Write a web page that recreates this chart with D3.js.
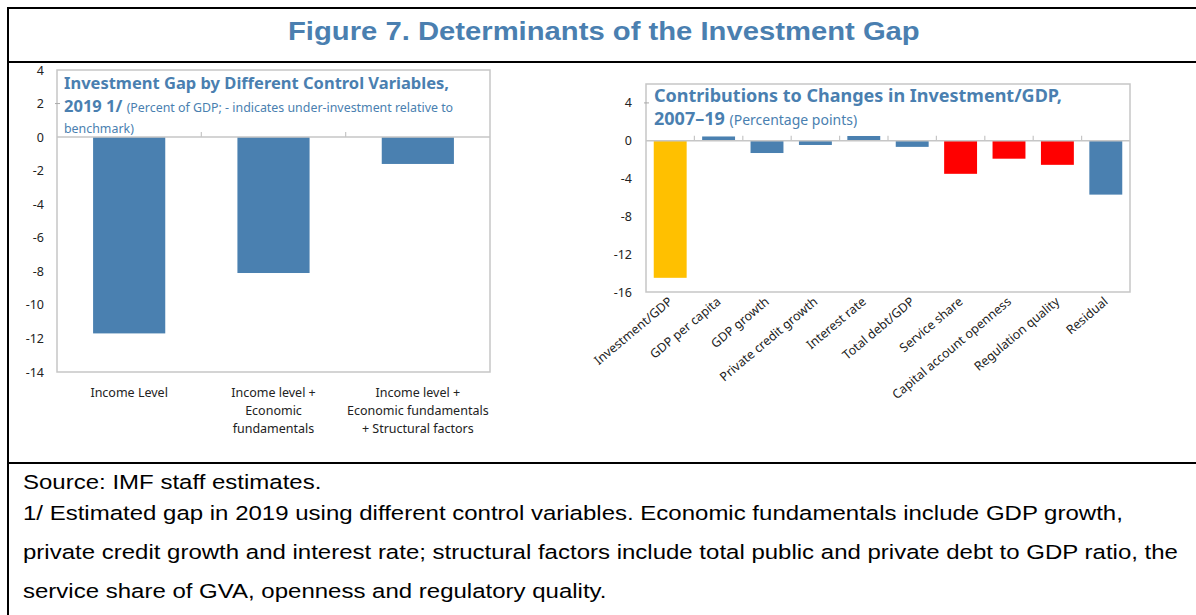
<!DOCTYPE html>
<html>
<head>
<meta charset="utf-8">
<script src="https://cdn.jsdelivr.net/npm/d3@7"></script>
<style>
  body { margin: 0; background: #fff; }
  svg { display: block; }
</style>
</head>
<body>
<svg width="1196" height="615"></svg>
<script>
// left panel data
const gapCategories = ["Income Level", "Income level + Economic fundamentals", "Income level + Economic fundamentals + Structural factors"];
const gapLabelLines = [["Income Level"], ["Income level +", "Economic", "fundamentals"], ["Income level +", "Economic fundamentals", "+ Structural factors"]];
const gapValues = [-11.7, -8.1, -1.6];
const gapTicks = [4, 2, 0, -2, -4, -6, -8, -10, -12, -14];

// right panel data
const contribCategories = ["Investment/GDP", "GDP per capita", "GDP growth", "Private credit growth", "Interest rate",
  "Total debt/GDP", "Service share", "Capital account openness", "Regulation quality", "Residual"];
const contribValues = [-14.5, 0.45, -1.3, -0.45, 0.5, -0.65, -3.5, -1.9, -2.55, -5.7];
const contribKind = ["total", "other", "other", "other", "other", "other", "structural", "structural", "structural", "other"];
const contribTicks = [4, 0, -4, -8, -12, -16];

const notes = [
  "Source: IMF staff estimates.",
  "1/ Estimated gap in 2019 using different control variables. Economic fundamentals include GDP growth,",
  "private credit growth and interest rate; structural factors include total public and private debt to GDP ratio, the",
  "service share of GVA, openness and regulatory quality."
];

const blue = "#4a80b0";
const colorOf = { total: "#ffc000", structural: "#ff0000", other: blue };
const titleBlue = "#4a7fb0";
const frameGray = "#c6c6c6";
const chartFont = "'Noto Sans', 'Open Sans', sans-serif";
const arial = "'Liberation Sans', Arial, sans-serif";
const plainNum = d => String(d); // hyphen minus, as in the source

const svg = d3.select("svg");

// outer frame
svg.append("rect").attr("width", 1196).attr("height", 615).attr("fill", "#fff");
[8, 62, 463].forEach(y => {
  svg.append("line").attr("x1", 8).attr("x2", 1196).attr("y1", y).attr("y2", y).attr("stroke", "#000").attr("stroke-width", 2);
});
svg.append("line").attr("x1", 8).attr("x2", 8).attr("y1", 7).attr("y2", 615).attr("stroke", "#000").attr("stroke-width", 2);

// figure title, stretched a little to match the source's wide rendering
const figTitle = svg.append("text")
  .attr("x", 0).attr("y", 0)
  .attr("font-family", arial)
  .attr("font-weight", "bold")
  .attr("font-size", 26.5)
  .attr("fill", titleBlue)
  .text("Figure 7. Determinants of the Investment Gap");
const ftw = figTitle.node().getComputedTextLength();
const ftScale = 632 / ftw;
figTitle.attr("transform", `translate(${604 - 632 / 2},40) scale(${ftScale},1)`);

// footnotes (same horizontal stretch as the source)
const noteY = [489, 520, 559, 598];
const noteG = svg.append("g").attr("transform", "translate(23,0) scale(1.232,1)");
noteG.selectAll("text").data(notes).enter().append("text")
  .attr("x", 0).attr("y", (d, i) => noteY[i])
  .attr("font-family", arial)
  .attr("font-size", 19.5)
  .attr("fill", "#000")
  .text(d => d);

// ---------- left panel ----------
const L = { left: 57, right: 490, top: 70, bottom: 372 };
const xL = d3.scaleBand().domain(gapCategories).range([L.left, L.right]).paddingInner(0.5).paddingOuter(0.25);
const yL = d3.scaleLinear().domain([-14, 4]).range([L.bottom, L.top]);
const gL = svg.append("g");

gL.append("rect")
  .attr("x", L.left).attr("y", L.top).attr("width", L.right - L.left).attr("height", L.bottom - L.top)
  .attr("fill", "#fff").attr("stroke", frameGray).attr("stroke-width", 1.5);

gL.selectAll("rect.bar").data(gapValues).enter().append("rect")
  .attr("class", "bar")
  .attr("x", (d, i) => xL(gapCategories[i]))
  .attr("width", xL.bandwidth())
  .attr("y", d => yL(Math.max(0, d)))
  .attr("height", d => Math.abs(yL(d) - yL(0)))
  .attr("fill", blue);

gL.append("line").attr("x1", L.left).attr("x2", L.right).attr("y1", yL(0)).attr("y2", yL(0))
  .attr("stroke", frameGray).attr("stroke-width", 1.5);
gL.selectAll("line.sep").data(gapCategories.slice(1)).enter().append("line")
  .attr("x1", d => xL(d) - xL.step() * xL.paddingInner() / 2)
  .attr("x2", d => xL(d) - xL.step() * xL.paddingInner() / 2)
  .attr("y1", yL(0)).attr("y2", yL(0) - 5)
  .attr("stroke", frameGray).attr("stroke-width", 1.2);

const axL = gL.append("g").attr("transform", `translate(${L.left},0)`)
  .call(d3.axisLeft(yL).tickValues(gapTicks).tickSize(0).tickPadding(13).tickFormat(plainNum));
axL.select(".domain").remove();
axL.selectAll("text").attr("font-family", chartFont).attr("font-size", 12.5).attr("fill", "#222");
gL.selectAll("line.ytick").data(gapTicks.filter(d => d > 0 && d < 4)).enter().append("line")
  .attr("x1", L.left - 2).attr("x2", L.left + 3).attr("y1", d => yL(d)).attr("y2", d => yL(d))
  .attr("stroke", "#aaa");

gL.selectAll("text.cat").data(gapLabelLines).enter().append("text")
  .attr("class", "cat")
  .attr("text-anchor", "middle")
  .attr("font-family", chartFont).attr("font-size", 12.5).attr("fill", "#222")
  .each(function (lines, i) {
    const cx = xL(gapCategories[i]) + xL.bandwidth() / 2;
    d3.select(this).selectAll("tspan").data(lines).enter().append("tspan")
      .attr("x", cx).attr("y", (d, j) => 397 + j * 18).text(d => d);
  });

const tL = gL.append("text").attr("font-family", chartFont).attr("fill", titleBlue);
tL.append("tspan").attr("x", 64).attr("y", 89).attr("font-size", 16.5).attr("font-weight", "bold")
  .text("Investment Gap by Different Control Variables,");
tL.append("tspan").attr("x", 64).attr("y", 112).attr("font-size", 16.5).attr("font-weight", "bold").text("2019 1/ ");
tL.append("tspan").attr("font-size", 12.4).text("(Percent of GDP; - indicates under-investment relative to");
tL.append("tspan").attr("x", 64).attr("y", 133).attr("font-size", 12.4).text("benchmark)");

// ---------- right panel ----------
const R = { left: 646, right: 1130, top: 84, bottom: 292 };
const xR = d3.scaleBand().domain(contribCategories).range([R.left, R.right]).paddingInner(0.32).paddingOuter(0.16);
const yR = d3.scaleLinear().domain([-16, 6]).range([R.bottom, R.top]);
const gR = svg.append("g");

gR.append("rect")
  .attr("x", R.left).attr("y", R.top).attr("width", R.right - R.left).attr("height", R.bottom - R.top)
  .attr("fill", "#fff").attr("stroke", frameGray).attr("stroke-width", 1.5);

gR.selectAll("rect.bar").data(contribValues).enter().append("rect")
  .attr("class", "bar")
  .attr("x", (d, i) => xR(contribCategories[i]))
  .attr("width", xR.bandwidth())
  .attr("y", d => yR(Math.max(0, d)))
  .attr("height", d => Math.abs(yR(d) - yR(0)))
  .attr("fill", (d, i) => colorOf[contribKind[i]]);

gR.append("line").attr("x1", R.left).attr("x2", R.right).attr("y1", yR(0)).attr("y2", yR(0))
  .attr("stroke", frameGray).attr("stroke-width", 1.5);
gR.selectAll("line.sep").data(contribCategories.slice(1)).enter().append("line")
  .attr("x1", d => xR(d) - xR.step() * xR.paddingInner() / 2)
  .attr("x2", d => xR(d) - xR.step() * xR.paddingInner() / 2)
  .attr("y1", yR(0)).attr("y2", yR(0) - 5)
  .attr("stroke", frameGray).attr("stroke-width", 1.2);

const axR = gR.append("g").attr("transform", `translate(${R.left},0)`)
  .call(d3.axisLeft(yR).tickValues(contribTicks).tickSize(0).tickPadding(14).tickFormat(plainNum));
axR.select(".domain").remove();
axR.selectAll("text").attr("font-family", chartFont).attr("font-size", 12.5).attr("fill", "#222");
gR.selectAll("line.ytick").data(contribTicks.filter(d => d > 0)).enter().append("line")
  .attr("x1", R.left - 2).attr("x2", R.left + 3).attr("y1", d => yR(d)).attr("y2", d => yR(d))
  .attr("stroke", "#aaa");

gR.selectAll("text.cat").data(contribCategories).enter().append("text")
  .attr("class", "cat")
  .attr("text-anchor", "end")
  .attr("font-family", chartFont).attr("font-size", 12.5).attr("fill", "#222")
  .attr("transform", d => `translate(${xR(d) + xR.bandwidth() / 2 + 3},${R.bottom + 11}) rotate(-40)`)
  .text(d => d);

const tR = gR.append("text").attr("font-family", chartFont).attr("fill", titleBlue);
tR.append("tspan").attr("x", 654).attr("y", 102).attr("font-size", 18).attr("font-weight", "bold")
  .text("Contributions to Changes in Investment/GDP,");
tR.append("tspan").attr("x", 654).attr("y", 125).attr("font-size", 18).attr("font-weight", "bold").text("2007\u201319 ");
tR.append("tspan").attr("font-size", 14).text("(Percentage points)");
</script>
</body>
</html>
